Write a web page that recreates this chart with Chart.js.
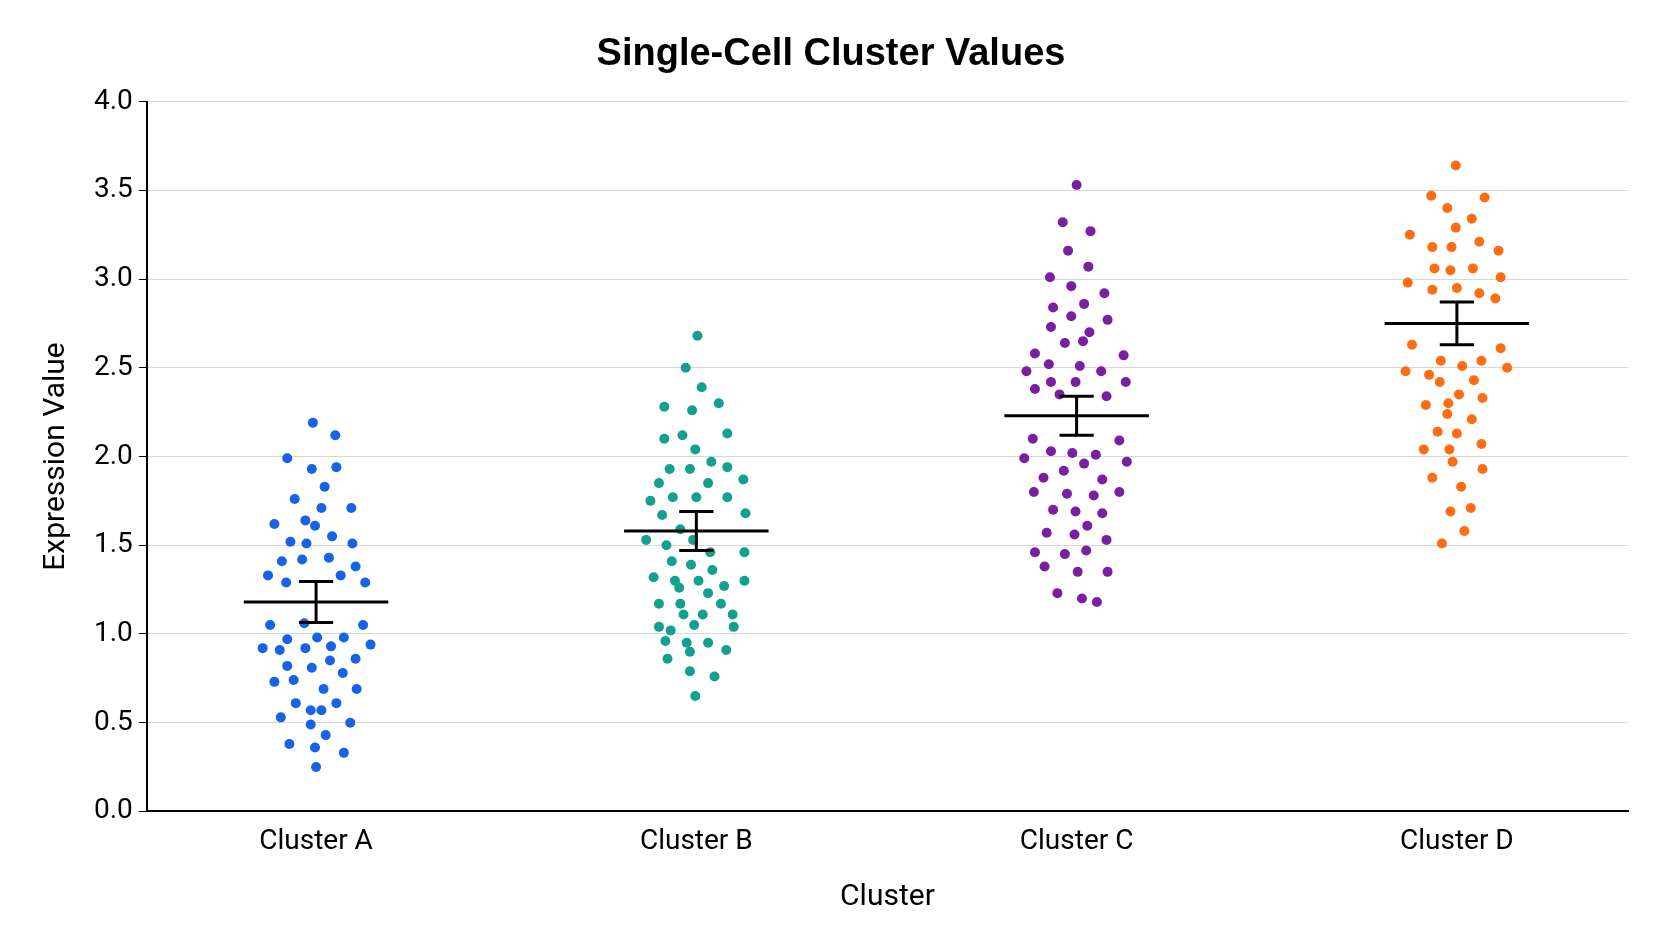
<!DOCTYPE html>
<html><head><meta charset="utf-8">
<script src="https://cdn.jsdelivr.net/npm/chart.js@4/dist/chart.umd.min.js"></script>
<style>html,body{margin:0;padding:0;background:#fff}#w{width:1672px;height:941px}</style>
</head><body><div id="w"><canvas id="c"></canvas></div>
<script>
const categories = ["Cluster A","Cluster B","Cluster C","Cluster D"];
const colors = ["#1763e6","#14a08e","#7b1fa2","#ff6d12"];
const valuesA = [2.19,2.12,1.99,1.93,1.94,1.83,1.76,1.71,1.71,1.62,1.64,1.61,1.52,1.51,1.55,1.51,1.41,1.42,1.43,1.38,1.33,1.33,1.29,1.29,1.05,1.06,1.05,0.97,0.98,0.98,0.92,0.91,0.92,0.93,0.94,0.82,0.81,0.86,0.85,0.73,0.74,0.69,0.78,0.69,0.61,0.57,0.57,0.61,0.53,0.50,0.49,0.38,0.36,0.43,0.33,0.25];
const jitterA = [-3,18,-27,-4,19,8,-20,5,33,-39,-10,-1,-24,-9,15,34,-32,-13,12,37,-45,23,-28,46,-43,-11,44,-27,1,26,-50,-34,-10,14,51,-27,-4,37,13,-39,-21,7,25,38,-19,-5,5,19,-33,32,-5,-25,-1,9,26,0];
const valuesB = [2.68,2.50,2.39,2.28,2.26,2.30,2.10,2.12,2.13,2.04,1.97,1.93,1.93,1.94,1.85,1.85,1.87,1.75,1.77,1.77,1.77,1.67,1.68,1.59,1.53,1.50,1.53,1.46,1.46,1.41,1.39,1.36,1.32,1.30,1.30,1.30,1.26,1.27,1.17,1.17,1.23,1.17,1.11,1.11,1.11,1.04,1.02,1.05,1.04,0.96,0.95,0.95,0.91,0.90,0.86,0.79,0.76,0.65];
const jitterB = [1,-10,5,-30,-4,21,-30,-13,29,-1,14,-25,-6,29,-35,11,44,-43,-22,0,29,-32,46,-15,-47,-28,-3,13,45,-23,-5,15,-40,-20,2,45,-16,26,-35,-15,11,23,-12,6,34,-35,-24,-2,35,-29,-9,11,28,-6,-27,-6,17,-1];
const valuesC = [3.53,3.32,3.27,3.16,3.07,3.01,2.96,2.92,2.84,2.86,2.79,2.77,2.73,2.70,2.64,2.65,2.58,2.57,2.52,2.51,2.48,2.48,2.42,2.42,2.42,2.38,2.35,2.34,2.10,2.09,2.03,2.02,2.01,1.99,1.92,1.97,1.96,1.88,1.87,1.80,1.79,1.78,1.80,1.70,1.69,1.68,1.61,1.57,1.56,1.53,1.46,1.45,1.47,1.38,1.35,1.35,1.23,1.20,1.18];
const jitterC = [0,-13,13,-8,11,-25,-5,26,-22,7,-5,29,-24,12,-11,6,-39,44,-26,3,-47,23,-24,-1,46,-39,-16,28,-41,40,-24,-4,18,-49,-12,47,7,-31,24,-40,-9,16,40,-22,-1,24,10,-28,-2,28,-39,-11,9,-30,1,29,-18,5,19];
const valuesD = [3.64,3.47,3.46,3.40,3.34,3.29,3.25,3.21,3.18,3.18,3.16,3.06,3.05,3.06,3.01,2.98,2.94,2.95,2.92,2.89,2.63,2.61,2.54,2.51,2.54,2.50,2.48,2.46,2.43,2.42,2.35,2.33,2.29,2.30,2.24,2.21,2.13,2.14,2.07,2.04,2.04,1.97,1.93,1.88,1.83,1.71,1.69,1.58,1.51];
const jitterD = [-1,-24,26,-9,14,-1,-44,21,-23,-5,39,-21,-6,15,41,-46,-23,0,21,36,-42,41,-15,5,23,47,-48,-26,16,-16,2,24,-29,-8,-9,14,0,-18,23,-31,-7,-4,24,-23,4,13,-6,7,-14];
const means = [1.18,1.58,2.23,2.75];
const errors = [0.115,0.11,0.11,0.12];
const yTicks = [0,0.5,1,1.5,2,2.5,3,3.5,4];

const allVals=[valuesA,valuesB,valuesC,valuesD], allJit=[jitterA,jitterB,jitterC,jitterD];
const FONT='"Roboto","Liberation Sans",sans-serif';
const datasets = categories.map((c,i)=>({
  label:c, data: allVals[i].map((v,k)=>({x:i+allJit[i][k]/356, y:v})),
  backgroundColor:colors[i], borderColor:colors[i], pointRadius:5, pointHoverRadius:5, borderWidth:0
}));
const errPlugin={id:'err',afterDatasetsDraw(ch){
  const {ctx,scales:{x,y}}=ch; ctx.save(); ctx.strokeStyle='#000'; ctx.lineWidth=3;
  means.forEach((m,i)=>{
    const cx=x.getPixelForValue(i), hw=x.getPixelForValue(i+0.19)-cx, cw=x.getPixelForValue(i+0.045)-cx;
    const ym=y.getPixelForValue(m), yt=y.getPixelForValue(m+errors[i]), yb=y.getPixelForValue(m-errors[i]);
    ctx.beginPath();
    ctx.moveTo(cx-hw,ym);ctx.lineTo(cx+hw,ym);
    ctx.moveTo(cx,yt);ctx.lineTo(cx,yb);
    ctx.moveTo(cx-cw,yt);ctx.lineTo(cx+cw,yt);
    ctx.moveTo(cx-cw,yb);ctx.lineTo(cx+cw,yb);
    ctx.stroke();
  }); ctx.restore();}};
new Chart(document.getElementById('c'),{type:'scatter',data:{datasets},plugins:[errPlugin],
 options:{responsive:true,maintainAspectRatio:false,animation:false,
  layout:{padding:{left:34,right:44,top:10,bottom:22}},
  plugins:{legend:{display:false},tooltip:{enabled:false},
   title:{display:true,text:'Single-Cell Cluster Values',color:'#000',font:{family:'"Liberation Sans",Arial,sans-serif',size:38,weight:'bold'},padding:{top:22,bottom:24}}},
  scales:{
   x:{type:'linear',min:-0.445,max:3.45,afterBuildTicks(a){a.ticks=categories.map((c,i)=>({value:i}));},
    ticks:{callback:(v)=>categories[v],color:'#000',font:{family:FONT,size:28},padding:6},
    grid:{display:false,drawTicks:true,tickLength:8,tickColor:'#000'},border:{color:'#000',width:2},
    title:{display:true,text:'Cluster',color:'#000',font:{family:FONT,size:30},padding:{top:14}}},
   y:{min:0,max:4,afterBuildTicks(a){a.ticks=yTicks.map(v=>({value:v}));},
    ticks:{callback:v=>v.toFixed(1),color:'#000',font:{family:FONT,size:28},padding:6},
    grid:{color:'#d8d8d8',lineWidth:1,tickColor:'#000',tickLength:8},border:{color:'#000',width:2},
    title:{display:true,text:'Expression Value',color:'#000',font:{family:FONT,size:30},padding:{bottom:14}}}
  }}});
</script></body></html>
